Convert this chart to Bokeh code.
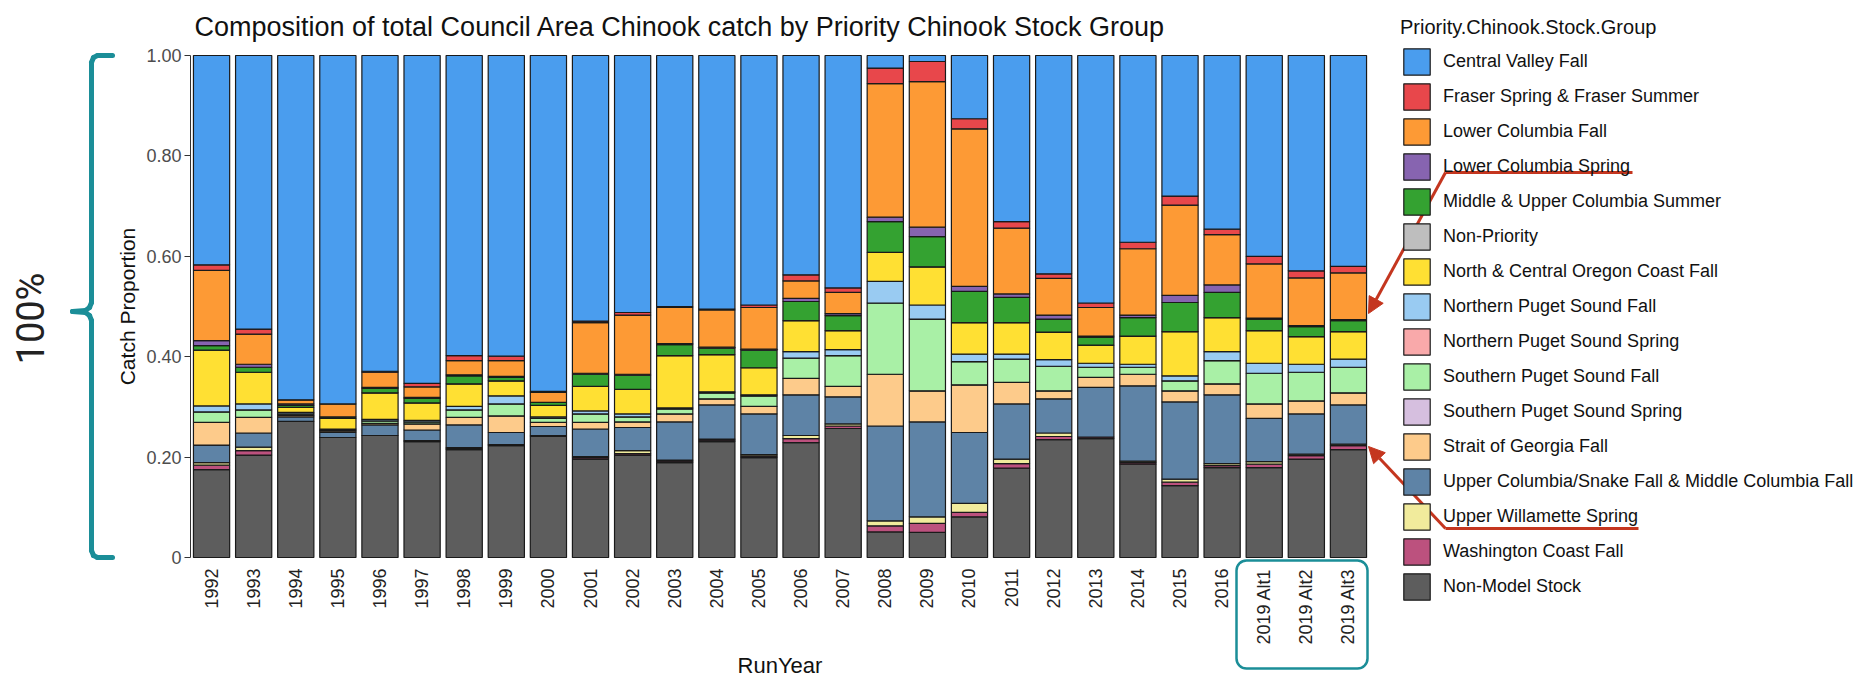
import math
from bokeh.plotting import figure
from bokeh.models import (ColumnDataSource, Range1d, FixedTicker, Legend,
                          LegendItem, Arrow, NormalHead, Label, BoxAnnotation)
from bokeh.embed import file_html
from bokeh.resources import INLINE

# ---------------- data ----------------
run_years = ["1992", "1993", "1994", "1995", "1996", "1997", "1998", "1999", "2000",
             "2001", "2002", "2003", "2004", "2005", "2006", "2007", "2008", "2009",
             "2010", "2011", "2012", "2013", "2014", "2015", "2016",
             "2019 Alt1", "2019 Alt2", "2019 Alt3"]

y_ticks = [0, 0.2, 0.4, 0.6, 0.8, 1.0]
y_tick_labels = ["0", "0.20", "0.40", "0.60", "0.80", "1.00"]

non_model = [.175, .204, .271, .239, .243, .231, .215, .223, .241, .196, .204, .189, .231, .199,
             .229, .257, .051, .050, .081, .178, .235, .237, .186, .143, .179, .179, .196, .215]
washington_coast_fall = [.009, .009, 0, 0, 0, .002, .002, .002, .002, .003, .003, .003, .003, .003,
                         .008, .005, .012, .018, .009, .009, .006, .003, .003, .007, .004, .007, .007, .008]
upper_willamette_spring = [.005, .007, 0, 0, 0, 0, .002, 0, 0, .002, .006, .002, .002, .003,
                           .006, .004, .010, .013, .018, .009, .007, 0, .003, .006, .004, .005, .003, .003]
upper_columbia_snake_fall = [.035, .028, .009, .010, .021, .021, .045, .024, .018, .055, .046, .076, .068, .081,
                             .081, .054, .189, .189, .141, .110, .068, .099, .150, .154, .137, .086, .080, .078]
strait_of_georgia_fall = [.045, .031, .003, .003, .003, .012, .015, .033, .008, .013, .011, .016, .012, .015,
                          .033, .021, .103, .062, .095, .043, .016, .020, .023, .022, .022, .029, .026, .024]
southern_puget_spring = [0, 0, 0, 0, 0, 0, 0, 0, 0, 0, 0, 0, 0, 0,
                         0, 0, 0, 0, 0, 0, 0, 0, 0, 0, 0, 0, 0, 0]
southern_puget_fall = [.021, .015, .003, .002, .005, .004, .015, .024, .008, .017, .010, .010, .012, .021,
                       .040, .061, .142, .143, .046, .046, .049, .020, .014, .020, .046, .061, .057, .051]
northern_puget_spring = [0, 0, 0, 0, 0, 0, 0, 0, 0, 0, 0, 0, 0, 0,
                         0, 0, 0, 0, 0, 0, 0, 0, 0, 0, 0, 0, 0, 0]
northern_puget_fall = [.012, .012, .003, .002, .003, .003, .007, .016, .003, .006, .006, .002, .002, .002,
                       .013, .012, .043, .028, .015, .010, .013, .008, .006, .010, .018, .020, .016, .016]
oregon_coast_fall = [.111, .063, .010, .021, .053, .035, .045, .030, .023, .049, .049, .104, .074, .054,
                     .062, .038, .058, .076, .063, .063, .055, .036, .056, .088, .068, .065, .055, .055]
non_priority = [0, 0, 0, 0, 0, 0, 0, 0, 0, 0, 0, 0, 0, 0,
                0, 0, 0, 0, 0, 0, 0, 0, 0, 0, 0, 0, 0, 0]
mid_upper_columbia_summer = [.009, .010, .004, .003, .009, .009, .016, .007, .006, .024, .028, .022, .013, .035,
                             .038, .030, .061, .060, .062, .050, .026, .016, .037, .058, .050, .023, .020, .022]
lower_columbia_spring = [.010, .006, .003, 0, .002, .002, .002, .002, 0, .002, .002, .002, .002, .002,
                         .006, .004, .009, .019, .010, .007, .008, .002, .005, .014, .015, .002, .002, .002]
lower_columbia_fall = [.140, .060, .008, .026, .030, .021, .028, .031, .020, .101, .118, .072, .074, .083,
                       .035, .042, .266, .290, .314, .131, .073, .057, .132, .180, .100, .108, .095, .093]
fraser = [.011, .010, 0, 0, .002, .007, .010, .009, .002, .003, .005, .002, .002, .005,
          .012, .009, .031, .040, .020, .013, .009, .009, .013, .018, .011, .015, .014, .013]
central_valley_fall = [.417, .545, .686, .694, .629, .653, .598, .599, .669, .529, .512, .500, .505, .497,
                       .437, .463, .025, .012, .126, .331, .435, .493, .372, .280, .346, .400, .429, .420]

# stack order bottom -> top
groups = [
    ("Non-Model Stock", "nm", non_model, "#5d5d5d"),
    ("Washington Coast Fall", "wa", washington_coast_fall, "#bc517e"),
    ("Upper Willamette Spring", "uw", upper_willamette_spring, "#f1eb9c"),
    ("Upper Columbia/Snake Fall & Middle Columbia Fall", "ucs", upper_columbia_snake_fall, "#5e83a6"),
    ("Strait of Georgia Fall", "sog", strait_of_georgia_fall, "#fdcb8b"),
    ("Southern Puget Sound Spring", "spss", southern_puget_spring, "#d6bfdf"),
    ("Southern Puget Sound Fall", "spsf", southern_puget_fall, "#a9f0a6"),
    ("Northern Puget Sound Spring", "npss", northern_puget_spring, "#f9a9aa"),
    ("Northern Puget Sound Fall", "npsf", northern_puget_fall, "#99cbf2"),
    ("North & Central Oregon Coast Fall", "oc", oregon_coast_fall, "#ffe033"),
    ("Non-Priority", "np", non_priority, "#bebebe"),
    ("Middle & Upper Columbia Summer", "mucs", mid_upper_columbia_summer, "#34a231"),
    ("Lower Columbia Spring", "lcs", lower_columbia_spring, "#8764b0"),
    ("Lower Columbia Fall", "lcf", lower_columbia_fall, "#fd9a35"),
    ("Fraser Spring & Fraser Summer", "fr", fraser, "#e8474b"),
    ("Central Valley Fall", "cv", central_valley_fall, "#4a9dee"),
]

# ---------------- layout (page pixels) ----------------
FONT = "Liberation Sans"
W, H = 1864, 680
PL, PR, PT, PB = 190, 1369, 55, 557      # panel box of the bars on the page
n = len(run_years)
step = (PR - PL) / n
unit = PB - PT


def dx(px):
    return (px - PL) / step


def dy(py):
    return (PB - py) / unit


xpos = [i + 0.5 for i in range(n)]
data = {"year": run_years, "x": xpos}
for name, key, vals, col in groups:
    data[key] = vals
source = ColumnDataSource(data)

p = figure(width=W, height=H, x_range=Range1d(dx(0), dx(W)), y_range=Range1d(dy(H), dy(0)),
           output_backend="svg", toolbar_location=None, title=None,
           min_border_left=0, min_border_right=0, min_border_top=0, min_border_bottom=0)
p.xgrid.grid_line_color = None
p.ygrid.grid_line_color = None
p.outline_line_color = None
p.background_fill_color = "white"

renderers = p.vbar_stack([g[1] for g in groups], x="x", width=0.86, source=source,
                         color=[g[3] for g in groups], line_color="#1a1a1a", line_width=1.2)

# y axis
yax = p.yaxis[0]
yax.fixed_location = 0
yax.bounds = (0, 1)
yax.ticker = FixedTicker(ticks=y_ticks)
yax.major_label_overrides = dict(zip(y_ticks, y_tick_labels))
yax.minor_tick_line_color = None
yax.major_tick_in = 0
yax.major_tick_out = 6
yax.major_tick_line_color = "#333333"
yax.axis_line_color = "#333333"
yax.major_label_text_font = FONT
yax.major_label_text_font_size = "18px"
yax.major_label_text_color = "#4d4d4d"
yax.major_label_standoff = 3
yax.axis_label = "Catch Proportion"
yax.axis_label_text_font = FONT
yax.axis_label_text_font_size = "21px"
yax.axis_label_text_font_style = "normal"
yax.axis_label_text_color = "#111111"
yax.axis_label_standoff = 4

# x axis
xax = p.xaxis[0]
xax.fixed_location = 0
xax.bounds = (0, n)
xax.ticker = FixedTicker(ticks=xpos)
xax.major_label_overrides = dict(zip(xpos, run_years))
xax.major_label_orientation = math.pi / 2
xax.major_tick_line_color = None
xax.minor_tick_line_color = None
xax.major_tick_out = 0
xax.major_tick_in = 0
xax.axis_line_color = None
xax.major_label_text_font = FONT
xax.major_label_text_font_size = "18px"
xax.major_label_text_color = "#222222"
xax.major_label_standoff = 11
xax.axis_label = "RunYear"
xax.axis_label_text_font = FONT
xax.axis_label_text_font_size = "22px"
xax.axis_label_text_font_style = "normal"
xax.axis_label_text_color = "#111111"
xax.axis_label_standoff = 5

# title
p.add_layout(Label(x=dx(194), y=dy(26), text="Composition of total Council Area Chinook catch by Priority Chinook Stock Group",
                   text_font=FONT, text_font_size="27px", text_baseline="middle", text_align="left",
                   text_color="#111111"))

# legend (top of stack first)
items = [LegendItem(label=g[0], renderers=[r]) for g, r in zip(groups, renderers)][::-1]
legend = Legend(items=items, title="Priority.Chinook.Stock.Group",
                location=(1400, H - 603), orientation="vertical",
                title_text_font=FONT, title_text_font_size="20px", title_text_font_style="normal",
                title_text_color="#111111", title_standoff=6,
                label_text_font=FONT, label_text_font_size="18px", label_text_color="#111111",
                glyph_width=33, glyph_height=33, label_height=33, spacing=2, label_standoff=10,
                padding=0, margin=0, border_line_color=None, background_fill_alpha=0)
p.add_layout(legend)

# ---------------- annotations ----------------
TEAL = "#1b8e98"
RED = "#c4361f"

bracket = [(112, 55), (97, 55), (93, 57), (91, 62), (91, 302), (89, 307), (85, 310), (72, 311),
           (85, 312), (89, 315), (91, 320), (91, 550), (93, 555), (97, 557), (112, 557)]
for (x0, y0), (x1, y1) in zip(bracket[:-1], bracket[1:]):
    p.add_layout(Arrow(end=None, x_start=dx(x0), y_start=dy(y0), x_end=dx(x1), y_end=dy(y1),
                       line_color=TEAL, line_width=5, line_cap="round"))

p.add_layout(Label(x=dx(30), y=dy(318), text="100%", angle=math.pi / 2, text_align="center",
                   text_baseline="middle", text_font="Roboto", text_font_size="38px",
                   text_color="#222222"))

p.add_layout(BoxAnnotation(left=dx(1236), right=dx(1367), top=dy(560), bottom=dy(668),
                           fill_alpha=0, line_color=TEAL, line_alpha=1.0, line_width=2.5,
                           border_radius=10))

for (ux0, ux1, uy, tipx, tipy) in [(1445, 1632, 172, 1368, 313), (1445, 1638, 528, 1368, 446)]:
    p.add_layout(Arrow(end=None, x_start=dx(ux0), y_start=dy(uy), x_end=dx(ux1), y_end=dy(uy),
                       line_color=RED, line_width=3))
    p.add_layout(Arrow(end=NormalHead(size=16, fill_color=RED, line_color=RED),
                       x_start=dx(ux0), y_start=dy(uy), x_end=dx(tipx), y_end=dy(tipy),
                       line_color=RED, line_width=3))

open("out.html", "w").write(file_html(p, INLINE))
